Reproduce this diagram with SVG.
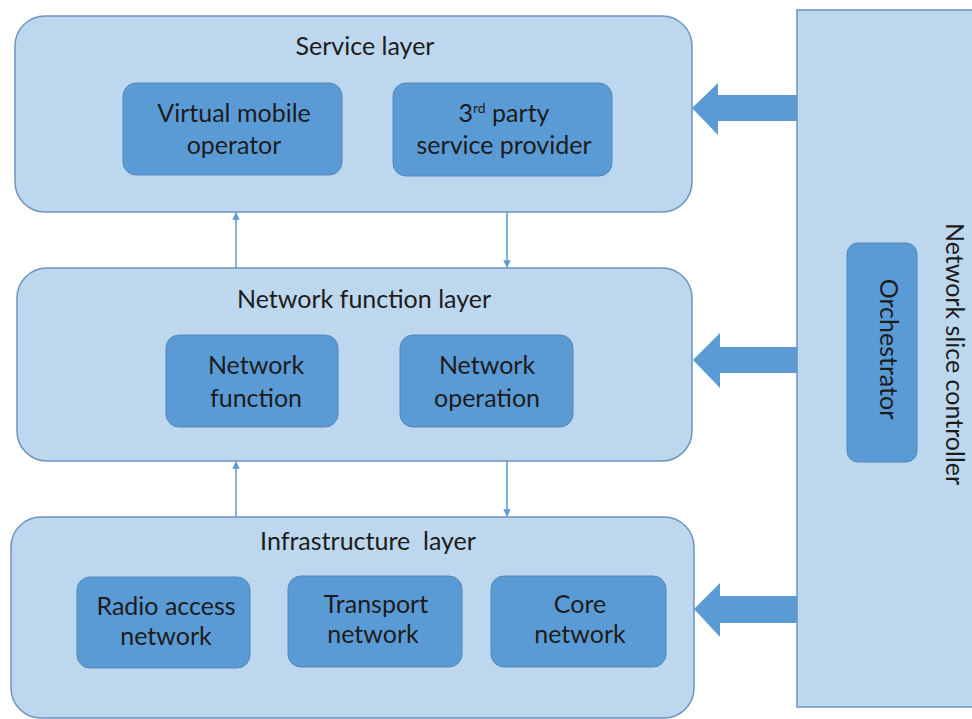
<svg xmlns="http://www.w3.org/2000/svg" width="972" height="719" viewBox="0 0 972 719">
<style>
.layer{fill:#BDD7EE;stroke:#6F93BD;stroke-width:1.5}
.inner{fill:#5B9BD5;stroke:#5586B8;stroke-width:1}
.t{font-family:Lato,"Liberation Sans",sans-serif;font-size:25px;fill:#1c1c1c;text-anchor:middle}
.big{fill:#5B9BD5}
.thin{stroke:#5B9BD5;stroke-width:1.5;fill:none}
</style>
<defs>
<marker id="ah" viewBox="0 0 10 10" refX="9" refY="5" markerWidth="5" markerHeight="5" orient="auto-start-reverse">
<path d="M0,0 L10,5 L0,10 z" fill="#5B9BD5"/>
</marker>
</defs>
<g id="controller">
<rect x="797" y="10" width="190" height="697" fill="#BDD7EE" stroke="#6F93BD" stroke-width="1.5"/>
<text class="t" transform="translate(946,354) rotate(90)" font-size="25">Network slice controller</text>
</g>
<g id="orchestrator">
<rect class="inner" x="847" y="243" width="70" height="219" rx="11"/>
<text class="t" transform="translate(880,349) rotate(90)">Orchestrator</text>
</g>
<g id="service-layer">
<rect class="layer" x="15" y="16" width="677" height="196" rx="30"/>
<text class="t" x="365" y="55">Service layer</text>
</g>
<g id="virtual-mobile-operator">
<rect class="inner" x="123" y="83" width="219" height="92" rx="13"/>
<text class="t" x="234" y="122">Virtual mobile</text>
<text class="t" x="234" y="154">operator</text>
</g>
<g id="third-party">
<rect class="inner" x="393" y="83" width="219" height="93" rx="13"/>
<text class="t" x="504" y="122">3<tspan font-size="14" dy="-9">rd</tspan><tspan dy="9"> party</tspan></text>
<text class="t" x="504" y="154">service provider</text>
</g>
<g id="network-function-layer">
<rect class="layer" x="17" y="268" width="675" height="193" rx="30"/>
<text class="t" x="364" y="308">Network function layer</text>
</g>
<g id="network-function">
<rect class="inner" x="166" y="335" width="172" height="92" rx="13"/>
<text class="t" x="256" y="374">Network</text>
<text class="t" x="256" y="407">function</text>
</g>
<g id="network-operation">
<rect class="inner" x="400" y="335" width="173" height="92" rx="13"/>
<text class="t" x="487" y="374">Network</text>
<text class="t" x="487" y="407">operation</text>
</g>
<g id="infrastructure-layer">
<rect class="layer" x="11" y="517" width="683" height="201" rx="30"/>
<text class="t" x="368" y="550" style="white-space:pre">Infrastructure  layer</text>
</g>
<g id="radio-access-network">
<rect class="inner" x="77" y="577" width="173" height="91" rx="13"/>
<text class="t" x="166" y="615">Radio access</text>
<text class="t" x="166" y="645">network</text>
</g>
<g id="transport-network">
<rect class="inner" x="288" y="576" width="174" height="91" rx="13"/>
<text class="t" x="376" y="613">Transport</text>
<text class="t" x="373" y="643">network</text>
</g>
<g id="core-network">
<rect class="inner" x="491" y="576" width="175" height="91" rx="13"/>
<text class="t" x="580" y="613">Core</text>
<text class="t" x="580" y="643">network</text>
</g>
<g id="connectors">
<path class="big" d="M797,95 L718,95 L718,83 L692,108 L718,135 L718,121 L797,121 z"/>
<path class="big" d="M797,347 L720,347 L720,333 L693,360 L720,388 L720,373 L797,373 z"/>
<path class="big" d="M797,596 L720,596 L720,583 L694,609 L720,637 L720,623 L797,623 z"/>
<line class="thin" x1="236" y1="268" x2="236" y2="213" marker-end="url(#ah)"/>
<line class="thin" x1="507" y1="212" x2="507" y2="267" marker-end="url(#ah)"/>
<line class="thin" x1="236" y1="517" x2="236" y2="462" marker-end="url(#ah)"/>
<line class="thin" x1="507" y1="461" x2="507" y2="516" marker-end="url(#ah)"/>
</g>
</svg>
